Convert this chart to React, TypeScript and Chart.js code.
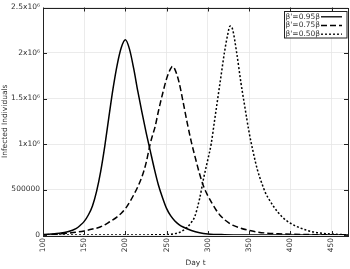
import React, { useEffect, useRef } from "react";
import { Chart, registerables } from "chart.js";

Chart.register(...registerables);

// ---- data (infected individuals in millions) ----
const seriesLabels = ["β'=0.95β", "β'=0.75β", "β'=0.50β"];

const daysA = [100, 110, 120, 130, 140, 145, 150, 155, 160, 165, 170, 175, 180, 185, 190, 195, 200, 205, 210, 215, 220, 225, 230, 235, 240, 245, 250, 255, 260, 265, 270, 280, 290, 300, 320, 350, 400, 470];
const infectedA = [0.005, 0.01, 0.018, 0.035, 0.07, 0.105, 0.15, 0.22, 0.32, 0.48, 0.7, 0.98, 1.3, 1.61, 1.87, 2.06, 2.145, 2.04, 1.83, 1.58, 1.35, 1.13, 0.93, 0.73, 0.55, 0.41, 0.29, 0.21, 0.155, 0.115, 0.088, 0.05, 0.025, 0.012, 0.004, 0.001, 0.0003, 0];

const daysB = [100, 110, 120, 130, 140, 150, 160, 170, 180, 190, 195, 200, 205, 210, 215, 220, 225, 230, 233, 236, 240, 245, 250, 255, 257, 260, 265, 270, 275, 280, 285, 290, 295, 300, 305, 310, 315, 320, 325, 330, 340, 350, 360, 370, 385, 400, 430, 470];
const infectedB = [0.003, 0.008, 0.013, 0.02, 0.03, 0.045, 0.065, 0.09, 0.14, 0.2, 0.24, 0.29, 0.36, 0.44, 0.53, 0.64, 0.79, 1.0, 1.1, 1.19, 1.36, 1.55, 1.72, 1.83, 1.853, 1.82, 1.68, 1.46, 1.23, 1.02, 0.84, 0.67, 0.53, 0.43, 0.35, 0.275, 0.215, 0.17, 0.135, 0.108, 0.075, 0.05, 0.033, 0.022, 0.014, 0.009, 0.004, 0.002];

const daysC = [100, 200, 240, 250, 260, 266, 270, 275, 280, 284, 290, 295, 300, 304, 308, 312, 316, 320, 324, 327, 330, 335, 340, 345, 350, 355, 360, 365, 370, 375, 380, 385, 390, 395, 400, 405, 410, 420, 430, 440, 450, 460, 470];
const infectedC = [0.001, 0.001, 0.002, 0.005, 0.015, 0.03, 0.05, 0.085, 0.14, 0.2, 0.4, 0.63, 0.83, 1.0, 1.25, 1.5, 1.75, 2.0, 2.2, 2.297, 2.26, 2.0, 1.68, 1.4, 1.13, 0.91, 0.72, 0.58, 0.46, 0.38, 0.31, 0.25, 0.2, 0.16, 0.13, 0.105, 0.085, 0.052, 0.03, 0.018, 0.01, 0.005, 0.003];

const xTickValues = [100, 150, 200, 250, 300, 350, 400, 450];
const yTickValues = [0, 500000, 1000000, 1500000, 2000000, 2500000];
const yTickLabels = ["0", "500000", "1x10⁶", "1.5x10⁶", "2x10⁶", "2.5x10⁶"];
const xTitle = "Day t";
const yTitle = "Infected Individuals";

const FONT = "'DejaVu Sans', sans-serif";
const TEXT = "#333";
const dashes: number[][] = [[], [6, 3], [2, 2]];

const toPoints = (d: number[], v: number[]) => d.map((x, i) => ({ x, y: v[i] * 1e6 }));

const framePlugin = {
  id: "frame",
  afterDraw(chart: any) {
    const ctx = chart.ctx;
    const { left, right, top, bottom } = chart.chartArea;
    const xs = chart.scales.x;
    const ys = chart.scales.y;
    ctx.save();
    ctx.strokeStyle = "#222";
    ctx.lineWidth = 1;
    ctx.setLineDash([]);
    ctx.strokeRect(Math.round(left) + 0.5, Math.round(top) + 0.5, Math.round(right - left), Math.round(bottom - top));
    ctx.beginPath();
    xTickValues.forEach((v) => {
      const p = Math.round(xs.getPixelForValue(v)) + 0.5;
      ctx.moveTo(p, bottom);
      ctx.lineTo(p, bottom - 4);
      ctx.moveTo(p, top);
      ctx.lineTo(p, top + 4);
    });
    yTickValues.forEach((v) => {
      const p = Math.round(ys.getPixelForValue(v)) + 0.5;
      ctx.moveTo(left, p);
      ctx.lineTo(left + 4, p);
      ctx.moveTo(right, p);
      ctx.lineTo(right - 4, p);
    });
    ctx.stroke();

    // legend box (gnuplot style: text then sample)
    const bx = right - 64.5;
    const by = top + 3.5;
    const bw = 62.5;
    const bh = 26.5;
    ctx.fillStyle = "#fff";
    ctx.fillRect(bx, by, bw, bh);
    ctx.strokeStyle = "#222";
    ctx.strokeRect(Math.round(bx) + 0.5, Math.round(by) + 0.5, bw, bh);
    ctx.font = `7.5px ${FONT}`;
    ctx.textBaseline = "middle";
    ctx.textAlign = "left";
    chart.data.datasets.forEach((ds: any, i: number) => {
      const cy = by + 5.8 + i * 8.7;
      ctx.fillStyle = TEXT;
      ctx.fillText(ds.label, bx + 2, cy);
      ctx.strokeStyle = "#000";
      ctx.lineWidth = 1.3;
      ctx.setLineDash(ds.borderDash || []);
      ctx.beginPath();
      ctx.moveTo(bx + 37.5, cy);
      ctx.lineTo(bx + 58.5, cy);
      ctx.stroke();
    });
    ctx.restore();
  },
};

export default function App() {
  const ref = useRef<HTMLCanvasElement>(null);
  useEffect(() => {
    document.body.style.margin = "0";
    const series = [
      toPoints(daysA, infectedA),
      toPoints(daysB, infectedB),
      toPoints(daysC, infectedC),
    ];
    const chart = new Chart(ref.current as HTMLCanvasElement, {
      type: "line",
      data: {
        datasets: series.map((data, i) => ({
          label: seriesLabels[i],
          data,
          borderColor: "#000",
          borderWidth: 1.5,
          borderDash: dashes[i],
          pointRadius: 0,
          fill: false,
          cubicInterpolationMode: "monotone" as const,
        })),
      },
      options: {
        animation: false,
        responsive: false,
        devicePixelRatio: 1,
        layout: { padding: { top: 5, right: 2, left: 0, bottom: 0 } },
        plugins: { legend: { display: false }, tooltip: { enabled: false } },
        scales: {
          x: {
            type: "linear",
            min: 100,
            max: 470,
            afterBuildTicks: (s: any) => {
              s.ticks = xTickValues.map((value) => ({ value }));
            },
            afterFit: (s: any) => {
              s.height = 34;
            },
            ticks: {
              autoSkip: false,
              minRotation: 90,
              maxRotation: 90,
              padding: 3,
              color: TEXT,
              font: { family: FONT, size: 7.5 },
            },
            grid: { color: "#e6e6e6", lineWidth: 0.8, drawTicks: false },
            border: { display: false },
            title: {
              display: true,
              text: xTitle,
              color: TEXT,
              font: { family: FONT, size: 7.5 },
              padding: { top: 0, bottom: 1 },
            },
          },
          y: {
            type: "linear",
            min: 0,
            max: 2500000,
            afterBuildTicks: (s: any) => {
              s.ticks = yTickValues.map((value) => ({ value }));
            },
            afterFit: (s: any) => {
              s.width = 43;
            },
            ticks: {
              padding: 3,
              color: TEXT,
              font: { family: FONT, size: 7.5 },
              callback: (v: any) => {
                const i = yTickValues.indexOf(Number(v));
                return i >= 0 ? yTickLabels[i] : "";
              },
            },
            grid: { color: "#e6e6e6", lineWidth: 0.8, drawTicks: false },
            border: { display: false },
            title: {
              display: true,
              text: yTitle,
              color: TEXT,
              font: { family: FONT, size: 7.5 },
              padding: { top: 1, bottom: 0 },
            },
          },
        },
      },
      plugins: [framePlugin],
    });
    return () => chart.destroy();
  }, []);
  return (
    <div style={{ width: 350, height: 269 }}>
      <canvas ref={ref} width={350} height={269} style={{ display: "block" }} />
    </div>
  );
}
